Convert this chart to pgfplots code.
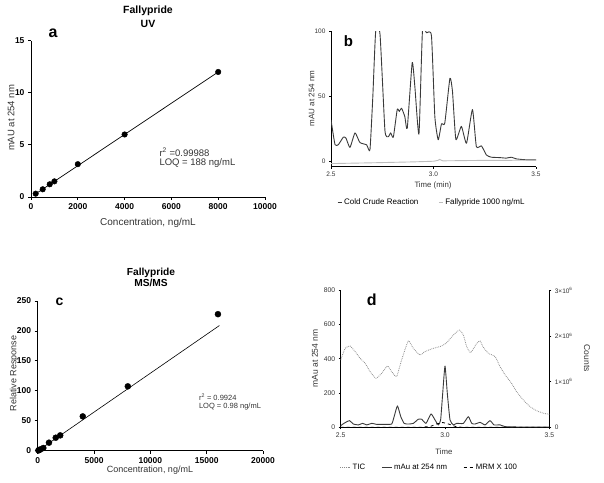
\documentclass[border=0pt]{standalone}
\usepackage{fontspec}
\setmainfont{Liberation Sans}
\usepackage{pgfplots}
\pgfplotsset{compat=1.18}
\definecolor{axgray}{HTML}{333333}
\definecolor{darkline}{HTML}{3A3A3A}
\definecolor{lightline}{HTML}{BDBDBD}
\definecolor{ticgray}{HTML}{8C8C8C}
\pgfplotsset{
  gp/.style={
    scale only axis, anchor=south west,
    axis x line*=bottom, axis y line*=left,
    axis line style={line width=0.8pt,-},
    tick align=outside, major tick length=3pt,
    every tick/.style={line width=0.8pt, black},
    scaled ticks=false,
    /pgf/number format/assume math mode=true,
    /pgf/number format/1000 sep={},
    clip=true,
  },
}
\tikzset{fs/.style={font=\fontsize{#1}{#1}\selectfont}}
\begin{document}
\begin{tikzpicture}[x=1pt,y=1pt]
\useasboundingbox (0,0) rectangle (604,482);

% ---------------- Panel a ----------------
\begin{axis}[gp, at={(31pt,285pt)}, width=234pt, height=156.3pt,
  xmin=0, xmax=10000, ymin=0, ymax=15,
  xtick={0,2000,4000,6000,8000,10000}, ytick={0,5,10,15},
  tick label style={font=\bfseries\fontsize{8.5}{9}\selectfont},
  minor x tick num=0]
\addplot[black, line width=0.7pt] coordinates {(200,0.30) (8000,12.0)};
\addplot[only marks, mark=*, mark size=2.8pt, black] coordinates {
(200,0.32) (500,0.74) (800,1.22) (1000,1.5) (2000,3.15) (4000,6.0) (8000,12.0)};
\end{axis}
\node[font=\bfseries\fontsize{10.5}{14}\selectfont, align=center] at (148,465) {Fallypride\\UV};
\node[font=\bfseries\fontsize{16}{16}\selectfont] at (53,449) {a};
\node[fs=9.5, text=axgray, rotate=90] at (11,364) {mAU at 254 nm};
\node[fs=10, text=axgray] at (148,259.5) {Concentration, ng/mL};
\node[fs=9.5, text=axgray, anchor=west, align=left] at (156,324) {r\textsuperscript{2} =0.99988\\LOQ = 188 ng/mL};

% ---------------- Panel b ----------------
\begin{axis}[gp, at={(331pt,315.3pt)}, width=205pt, height=135.2pt,
  xmin=2.5, xmax=3.5, ymin=-4, ymax=100,
  xtick={2.5,3.0,3.5}, ytick={0,50,100},
  xticklabel style={/pgf/number format/.cd, fixed, fixed zerofill, precision=1},
  tick label style={font=\fontsize{6.5}{7}\selectfont, text=axgray},
  axis line style={line width=0.6pt,-}, major tick length=2pt,
  legend style={at={(0.015,-0.263)}, anchor=west, draw=none, fill=none,
    legend columns=2, font=\fontsize{8}{8}\selectfont,
    /tikz/every even column/.append style={column sep=18pt}},
  legend image code/.code={\draw[#1] (0pt,0pt) -- (4pt,0pt);}]
\addplot[darkline, line width=0.9pt, line join=round, smooth, tension=0.3] coordinates {
(2.500,32) (2.5195,13) (2.536,13) (2.560,18.7) (2.573,18) (2.5925,10.8) (2.617,22)
(2.641,14.6) (2.674,12.8) (2.690,9) (2.704,50) (2.718,100) (2.739,98) (2.763,24)
(2.779,19) (2.791,22) (2.804,18.7) (2.823,40) (2.833,38.5) (2.844,41) (2.860,34.6)
(2.872,25.6) (2.896,76) (2.909,57.7) (2.929,21) (2.946,100) (2.966,99) (2.990,96.7)
(3.0065,34.6) (3.023,16.7) (3.039,29) (3.055,29.5) (3.080,64) (3.0925,54) (3.109,17)
(3.136,27) (3.161,14) (3.190,40) (3.209,11.5) (3.234,12) (3.258,5) (3.282,3.3)
(3.323,3) (3.355,2.6) (3.380,3.3) (3.404,2) (3.453,1.3) (3.500,1.3)};
\addlegendentry{Cold Crude Reaction}
\addplot[lightline, line width=0.9pt] coordinates {
(2.5,-1.6) (2.7,-1.0) (2.9,-0.3) (3.0,0.2) (3.02,0.8) (3.03,1.6) (3.045,0.5) (3.2,0.8) (3.5,1.0)};
\addlegendentry{Fallypride 1000 ng/mL}
\end{axis}
\node[font=\bfseries\fontsize{15}{15}\selectfont] at (348.5,441) {b};
\node[fs=8, text=axgray, rotate=90] at (311.5,383.5) {mAU at 254 nm};
\node[fs=7.8, text=axgray] at (433,297) {Time (min)};

% ---------------- Panel c ----------------
\begin{axis}[gp, at={(37.7pt,31.3pt)}, width=225.3pt, height=149.7pt,
  xmin=0, xmax=20000, ymin=0, ymax=250,
  xtick={0,5000,10000,15000,20000}, ytick={0,50,100,150,200,250},
  tick label style={font=\bfseries\fontsize{8.5}{9}\selectfont}]
\addplot[black, line width=0.6pt] coordinates {(0,-0.5) (16130,209)};
\addplot[only marks, mark=*, mark size=3pt, black] coordinates {
(62.5,0.5) (125,1.1) (250,2.3) (500,4.5) (1000,13.4) (1600,21.7) (2000,25.6)
(4000,57.3) (8000,107.5) (16000,228)};
\end{axis}
\node[font=\bfseries\fontsize{10.2}{11.6}\selectfont, align=center] at (151,204.5) {Fallypride\\MS/MS};
\node[font=\bfseries\fontsize{14}{14}\selectfont] at (59.5,180.5) {c};
\node[fs=9, text=axgray, rotate=90] at (14,108.7) {Relative Response};
\node[fs=9, text=axgray] at (150,12) {Concentration, ng/mL};
\node[fs=7.5, text=axgray, anchor=west, align=left] at (195.5,80.3) {r\textsuperscript{2} = 0.9924\\LOQ = 0.98 ng/mL};

% ---------------- Panel d ----------------
\begin{axis}[gp, at={(340.7pt,54.7pt)}, width=208.6pt, height=137pt,
  xmin=2.5, xmax=3.5, ymin=0, ymax=800,
  xtick={2.5,3.0,3.5}, ytick={0,200,400,600,800},
  xticklabel style={/pgf/number format/.cd, fixed, fixed zerofill, precision=1},
  tick label style={font=\fontsize{6.8}{7}\selectfont, text=axgray},
  axis line style={line width=0.6pt,-}, major tick length=2pt]
\addplot[darkline, line width=0.9pt, line join=round, smooth, tension=0.3] coordinates {
(2.500,10) (2.521,27) (2.542,39) (2.561,19) (2.585,14) (2.605,23) (2.625,14)
(2.649,23) (2.673,17) (2.704,17) (2.744,19) (2.756,62) (2.772,125) (2.788,62)
(2.804,23) (2.824,19) (2.848,23) (2.872,47) (2.888,47) (2.909,23) (2.933,78)
(2.952,43) (2.968,14) (2.979,43) (2.989,199) (3.000,358) (3.011,199) (3.024,43)
(3.040,14) (3.056,23) (3.088,23) (3.112,62) (3.128,23) (3.144,19) (3.168,29)
(3.192,14) (3.216,39) (3.235,14) (3.264,14) (3.288,4) (3.343,2) (3.500,2)};
\addplot[black, line width=0.8pt, dashed] coordinates {
(2.5,0) (2.88,0) (2.93,5) (2.96,20) (2.99,28) (3.02,18) (3.05,5) (3.08,0) (3.5,0)};
\end{axis}
\begin{axis}[gp, at={(340.7pt,54.7pt)}, width=208.6pt, height=137pt,
  axis x line=none, axis y line*=right,
  xmin=2.5, xmax=3.5, ymin=0, ymax=3000000,
  ytick={0,1000000,2000000,3000000},
  yticklabels={0, 1×10\textsuperscript{6}, 2×10\textsuperscript{6}, 3×10\textsuperscript{6}},
  tick label style={font=\fontsize{6.5}{7}\selectfont, text=axgray},
  axis line style={line width=0.6pt,-}, major tick length=2pt,
  legend style={at={(-0.019,-0.292)}, anchor=west, draw=none, fill=none,
    legend columns=3, font=\fontsize{7.8}{8}\selectfont,
    /tikz/every odd column/.append style={column sep=0pt},
    /tikz/every even column/.append style={column sep=14pt}},
  legend image code/.code={\draw[#1] (0pt,0pt) -- (10pt,0pt);}]
\addplot[ticgray, line width=0.8pt, densely dotted, smooth, tension=0.3] coordinates {
(2.500,1474000) (2.521,1729000) (2.545,1781000) (2.569,1658000) (2.593,1511000)
(2.617,1403000) (2.641,1219000) (2.669,1073000) (2.696,1181000) (2.724,1343000)
(2.744,1219000) (2.768,1110000) (2.792,1474000) (2.824,1890000) (2.848,1729000)
(2.880,1583000) (2.904,1658000) (2.944,1729000) (2.984,1781000) (3.008,1853000)
(3.040,2021000) (3.069,2130000) (3.088,2021000) (3.104,1766000) (3.123,1635000)
(3.152,1838000) (3.168,1890000) (3.184,1751000) (3.208,1620000) (3.240,1549000)
(3.264,1328000) (3.288,1148000) (3.319,964000) (3.343,780000) (3.375,600000)
(3.407,454000) (3.439,364000) (3.471,308000) (3.500,285000)};
\addlegendentry{TIC}
\addlegendimage{darkline, line width=0.9pt}
\addlegendentry{mAu at 254 nm}
\addlegendimage{black, line width=0.8pt, dashed}
\addlegendentry{MRM X 100}
\end{axis}
\node[font=\bfseries\fontsize{16}{16}\selectfont] at (371.7,182) {d};
\node[fs=8.5, text=axgray, rotate=90] at (315,123.7) {mAu at 254 nm};
\node[fs=8.5, text=axgray, rotate=-90] at (587,123.7) {Counts};
\node[fs=7.8, text=axgray] at (444,30) {Time};
\end{tikzpicture}
\end{document}
